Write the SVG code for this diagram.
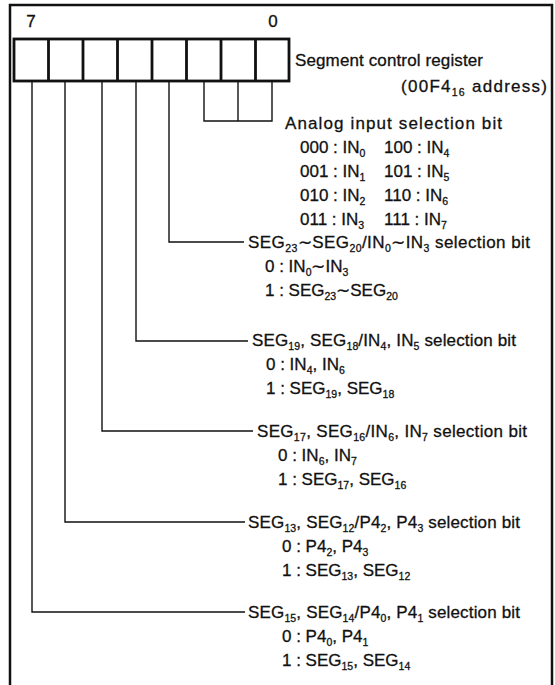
<svg xmlns="http://www.w3.org/2000/svg" width="555" height="685" viewBox="0 0 555 685">
<style>
text{font-family:"Liberation Sans",Arial,Helvetica,sans-serif;font-size:17px;fill:#111;stroke:#111;stroke-width:0.3}
.s{font-size:10.5px}
.frame{fill:none;stroke:#111;stroke-width:2.5}
.reg{fill:#fff;stroke:#111;stroke-width:2.8}
.ln{fill:none;stroke:#111;stroke-width:1.4}
</style>
<rect width="555" height="685" fill="#fff"/>
<path class="frame" d="M10,685 V5 H552 V685"/>
<g id="register">
<text x="31" y="27" text-anchor="middle">7</text>
<text x="273" y="27" text-anchor="middle">0</text>
<rect class="reg" x="14" y="39" width="275" height="42"/>
<path class="reg" d="M48.5,39V81M83,39V81M117.5,39V81M152,39V81M186.5,39V81M221,39V81M255.5,39V81"/>
<text x="295" y="66" textLength="188">Segment control register</text>
<text x="401" y="92" textLength="146">(00F4<tspan class="s" dy="4">16</tspan><tspan dy="-4"> address)</tspan></text>
</g>
<g id="connectors">
<path class="ln" d="M204,81V121H272V81M238,81V121"/>
<path class="ln" d="M169,81V242H244"/>
<path class="ln" d="M136,81V341H248"/>
<path class="ln" d="M102,81V431H253"/>
<path class="ln" d="M65,81V522H245"/>
<path class="ln" d="M32,81V612H245"/>
</g>
<g id="analog-input">
<text x="285" y="129" textLength="217">Analog input selection bit</text>
<text x="300" y="153">000 : IN<tspan class="s" dy="4">0</tspan></text>
<text x="384" y="153">100 : IN<tspan class="s" dy="4">4</tspan></text>
<text x="300" y="177">001 : IN<tspan class="s" dy="4">1</tspan></text>
<text x="384" y="177">101 : IN<tspan class="s" dy="4">5</tspan></text>
<text x="300" y="201">010 : IN<tspan class="s" dy="4">2</tspan></text>
<text x="384" y="201">110 : IN<tspan class="s" dy="4">6</tspan></text>
<text x="300" y="225">011 : IN<tspan class="s" dy="4">3</tspan></text>
<text x="384" y="225">111 : IN<tspan class="s" dy="4">7</tspan></text>
</g>
<g id="bit3">
<text x="248" y="248" textLength="282">SEG<tspan class="s" dy="4">23</tspan><tspan dy="-4">∼SEG</tspan><tspan class="s" dy="4">20</tspan><tspan dy="-4">/IN</tspan><tspan class="s" dy="4">0</tspan><tspan dy="-4">∼IN</tspan><tspan class="s" dy="4">3</tspan><tspan dy="-4"> selection bit</tspan></text>
<text x="265" y="272">0 : IN<tspan class="s" dy="4">0</tspan><tspan dy="-4">∼IN</tspan><tspan class="s" dy="4">3</tspan></text>
<text x="265" y="296">1 : SEG<tspan class="s" dy="4">23</tspan><tspan dy="-4">∼SEG</tspan><tspan class="s" dy="4">20</tspan></text>
</g>
<g id="bit4">
<text x="252" y="346" textLength="264">SEG<tspan class="s" dy="4">19</tspan><tspan dy="-4">, SEG</tspan><tspan class="s" dy="4">18</tspan><tspan dy="-4">/IN</tspan><tspan class="s" dy="4">4</tspan><tspan dy="-4">, IN</tspan><tspan class="s" dy="4">5</tspan><tspan dy="-4"> selection bit</tspan></text>
<text x="266" y="370">0 : IN<tspan class="s" dy="4">4</tspan><tspan dy="-4">, IN</tspan><tspan class="s" dy="4">6</tspan></text>
<text x="266" y="394">1 : SEG<tspan class="s" dy="4">19</tspan><tspan dy="-4">, SEG</tspan><tspan class="s" dy="4">18</tspan></text>
</g>
<g id="bit5">
<text x="257" y="437" textLength="270">SEG<tspan class="s" dy="4">17</tspan><tspan dy="-4">, SEG</tspan><tspan class="s" dy="4">16</tspan><tspan dy="-4">/IN</tspan><tspan class="s" dy="4">6</tspan><tspan dy="-4">, IN</tspan><tspan class="s" dy="4">7</tspan><tspan dy="-4"> selection bit</tspan></text>
<text x="278" y="461">0 : IN<tspan class="s" dy="4">6</tspan><tspan dy="-4">, IN</tspan><tspan class="s" dy="4">7</tspan></text>
<text x="278" y="485">1 : SEG<tspan class="s" dy="4">17</tspan><tspan dy="-4">, SEG</tspan><tspan class="s" dy="4">16</tspan></text>
</g>
<g id="bit6">
<text x="248" y="528" textLength="272">SEG<tspan class="s" dy="4">13</tspan><tspan dy="-4">, SEG</tspan><tspan class="s" dy="4">12</tspan><tspan dy="-4">/P4</tspan><tspan class="s" dy="4">2</tspan><tspan dy="-4">, P4</tspan><tspan class="s" dy="4">3</tspan><tspan dy="-4"> selection bit</tspan></text>
<text x="282" y="552">0 : P4<tspan class="s" dy="4">2</tspan><tspan dy="-4">, P4</tspan><tspan class="s" dy="4">3</tspan></text>
<text x="282" y="576">1 : SEG<tspan class="s" dy="4">13</tspan><tspan dy="-4">, SEG</tspan><tspan class="s" dy="4">12</tspan></text>
</g>
<g id="bit7">
<text x="248" y="618" textLength="272">SEG<tspan class="s" dy="4">15</tspan><tspan dy="-4">, SEG</tspan><tspan class="s" dy="4">14</tspan><tspan dy="-4">/P4</tspan><tspan class="s" dy="4">0</tspan><tspan dy="-4">, P4</tspan><tspan class="s" dy="4">1</tspan><tspan dy="-4"> selection bit</tspan></text>
<text x="282" y="642">0 : P4<tspan class="s" dy="4">0</tspan><tspan dy="-4">, P4</tspan><tspan class="s" dy="4">1</tspan></text>
<text x="282" y="666">1 : SEG<tspan class="s" dy="4">15</tspan><tspan dy="-4">, SEG</tspan><tspan class="s" dy="4">14</tspan></text>
</g>
</svg>
